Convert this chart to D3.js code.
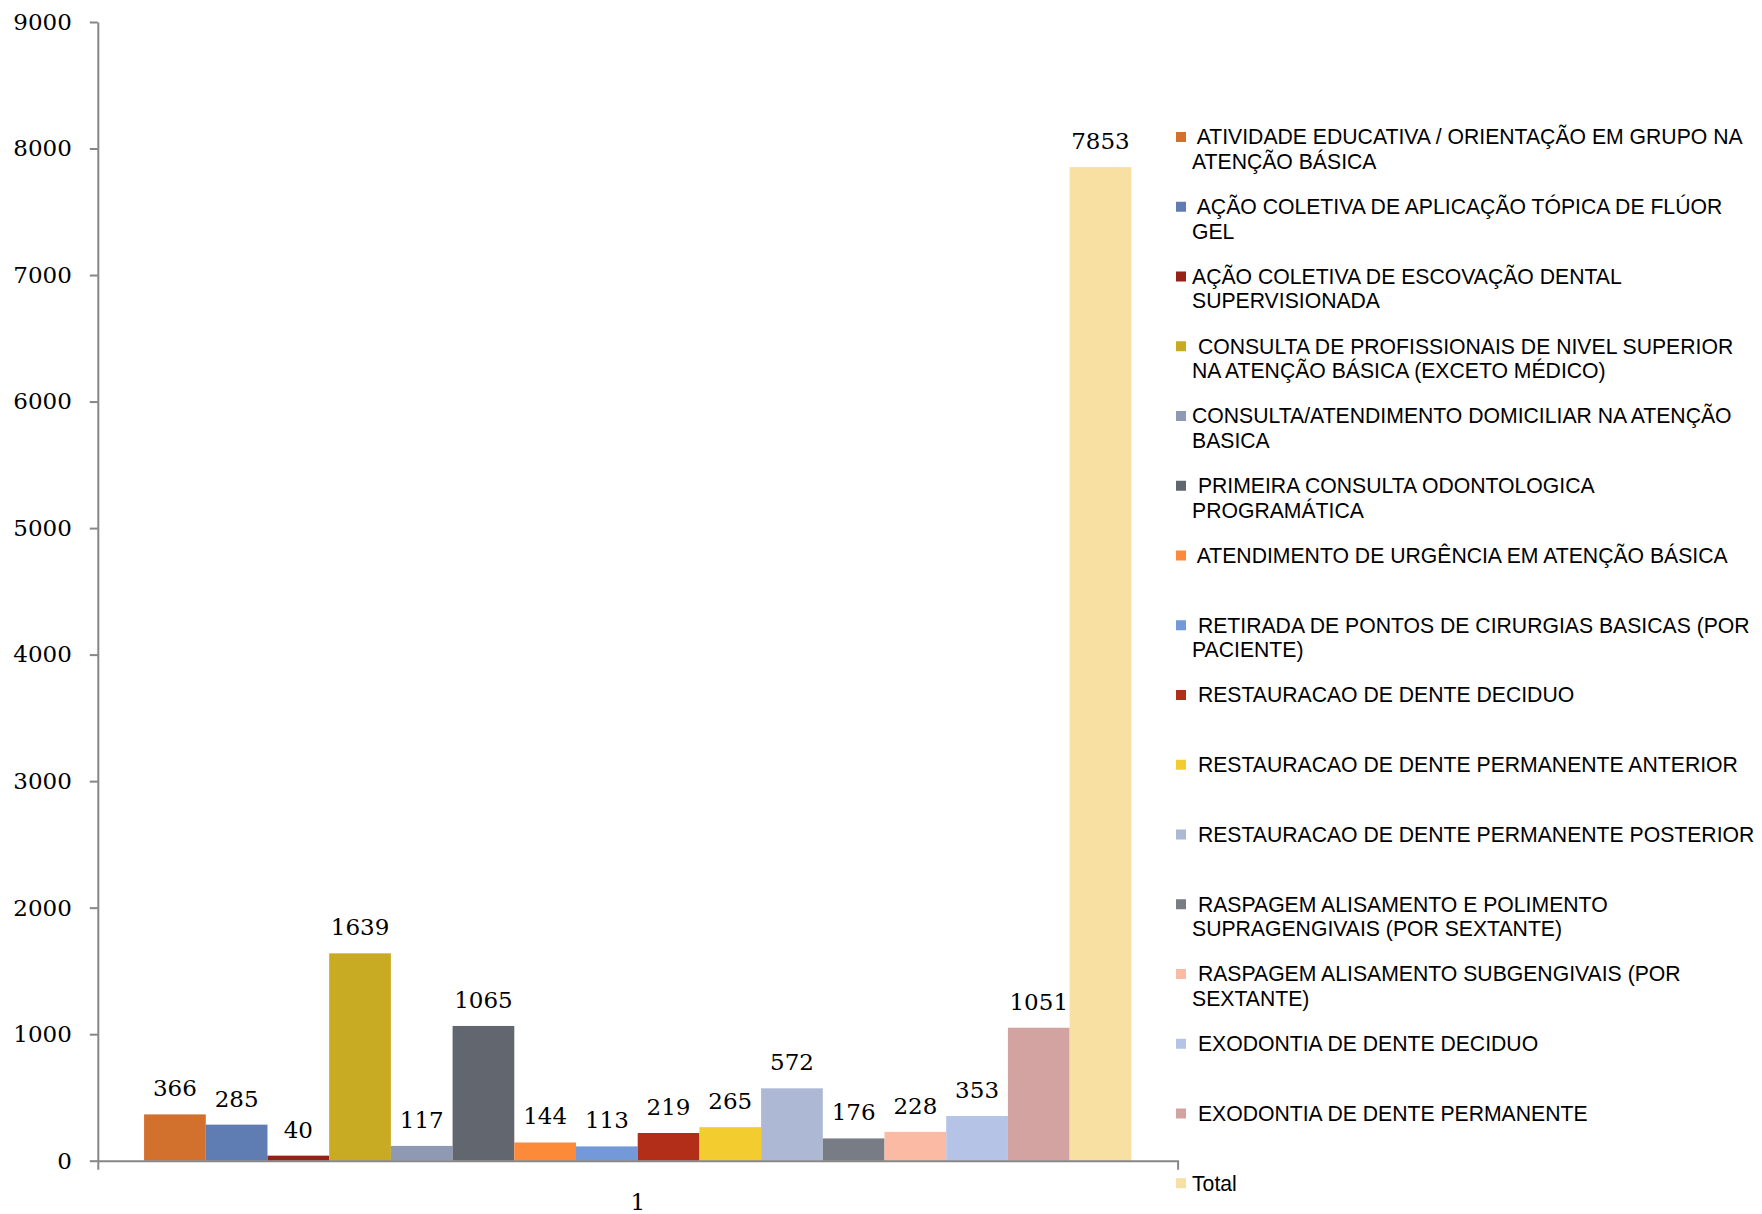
<!DOCTYPE html>
<html lang="pt">
<head>
<meta charset="UTF-8">
<title>Procedimentos odontológicos</title>
<style>
  body { margin: 0; background: #fff; }
  svg { display: block; }
  .legend text { white-space: pre; }
</style>
</head>
<body>
<svg id="chart" width="1762" height="1214"></svg>
<script src="https://cdn.jsdelivr.net/npm/d3@7"></script>
<script>
  // data
  const categories = ["1"];

  const seriesNames = [
    " ATIVIDADE EDUCATIVA / ORIENTAÇÃO EM GRUPO NA\nATENÇÃO BÁSICA",
    " AÇÃO COLETIVA DE APLICAÇÃO TÓPICA DE FLÚOR\nGEL",
    "AÇÃO COLETIVA DE ESCOVAÇÃO DENTAL\nSUPERVISIONADA",
    " CONSULTA DE PROFISSIONAIS DE NIVEL SUPERIOR\nNA ATENÇÃO BÁSICA (EXCETO MÉDICO)",
    "CONSULTA/ATENDIMENTO DOMICILIAR NA ATENÇÃO\nBASICA",
    " PRIMEIRA CONSULTA ODONTOLOGICA\nPROGRAMÁTICA",
    " ATENDIMENTO DE URGÊNCIA EM ATENÇÃO BÁSICA",
    " RETIRADA DE PONTOS DE CIRURGIAS BASICAS (POR\nPACIENTE)",
    " RESTAURACAO DE DENTE DECIDUO",
    " RESTAURACAO DE DENTE PERMANENTE ANTERIOR",
    " RESTAURACAO DE DENTE PERMANENTE POSTERIOR",
    " RASPAGEM ALISAMENTO E POLIMENTO\nSUPRAGENGIVAIS (POR SEXTANTE)",
    " RASPAGEM ALISAMENTO SUBGENGIVAIS (POR\nSEXTANTE)",
    " EXODONTIA DE DENTE DECIDUO",
    " EXODONTIA DE DENTE PERMANENTE",
    "Total"
  ];

  const seriesValues = [366, 285, 40, 1639, 117, 1065, 144, 113, 219, 265, 572, 176, 228, 353, 1051, 7853];

  const seriesColors = [
    "#d2702d", "#5f7db3", "#962117", "#c9aa23", "#8e9ab3", "#62666e",
    "#fd8a38", "#7499d8", "#b22e19", "#f3cc30", "#adb8d5", "#787c84",
    "#fbbaa4", "#b4c3e6", "#d3a3a1", "#f7e0a2"
  ];

  const yTicks = [0, 1000, 2000, 3000, 4000, 5000, 6000, 7000, 8000, 9000];

  const svg = d3.select("#chart");
  const serif = "'DejaVu Serif', serif";
  const axisColor = "#868686";

  const plot = { left: 97.8, right: 1177.6, top: 22, bottom: 1160.7 };

  const y = d3.scaleLinear()
    .domain([0, 9000])
    .range([plot.bottom, plot.top]);

  // excel-style gap width of 150% of one bar on a 16-bar group
  const x = d3.scaleBand()
    .domain(categories)
    .range([plot.left, plot.right])
    .paddingInner(0)
    .paddingOuter(1.5 / seriesNames.length / 2);

  const xs = d3.scaleBand()
    .domain(d3.range(seriesNames.length))
    .range([0, x.bandwidth()])
    .padding(0);

  const rows = seriesNames.map((name, i) => ({
    i, name, value: seriesValues[i], color: seriesColors[i]
  }));

  // y axis
  const yAxis = svg.append("g")
    .attr("transform", `translate(${plot.left},0)`)
    .call(d3.axisLeft(y).tickValues(yTicks).tickSize(8).tickSizeOuter(0).tickPadding(18).tickFormat(d3.format("d")));
  yAxis.selectAll("path, line").attr("stroke", axisColor).attr("stroke-width", 2);
  yAxis.selectAll("text")
    .attr("font-family", serif)
    .attr("font-size", 23)
    .attr("fill", "#000");

  // bars
  const group = svg.append("g")
    .attr("transform", `translate(${x("1")},0)`);

  group.selectAll("rect")
    .data(rows)
    .join("rect")
    .attr("x", d => xs(d.i))
    .attr("y", d => y(d.value))
    .attr("width", xs.bandwidth())
    .attr("height", d => y(0) - y(d.value))
    .attr("fill", d => d.color);

  group.selectAll("text.value")
    .data(rows)
    .join("text")
    .attr("class", "value")
    .attr("x", d => xs(d.i) + xs.bandwidth() / 2)
    .attr("y", d => y(d.value) - 18)
    .attr("text-anchor", "middle")
    .attr("font-family", serif)
    .attr("font-size", 23)
    .attr("fill", "#000")
    .text(d => d.value);

  // x axis
  const xAxis = svg.append("g")
    .attr("transform", `translate(0,${plot.bottom})`)
    .call(d3.axisBottom(x).tickSizeInner(0).tickSizeOuter(9).tickPadding(33));
  xAxis.selectAll("path").attr("stroke", axisColor).attr("stroke-width", 2);
  xAxis.selectAll("text")
    .attr("font-family", serif)
    .attr("font-size", 23)
    .attr("fill", "#000");

  // legend
  const legend = svg.append("g")
    .attr("class", "legend")
    .attr("transform", "translate(1176,137)");

  const item = legend.selectAll("g")
    .data(rows)
    .join("g")
    .attr("transform", d => `translate(0,${d.i * 69.75})`);

  item.append("rect")
    .attr("x", 0)
    .attr("y", -5)
    .attr("width", 10)
    .attr("height", 10)
    .attr("fill", d => d.color);

  item.append("text")
    .attr("font-family", "'Liberation Sans', Arial, sans-serif")
    .attr("font-size", 21.2)
    .attr("fill", "#000")
    .selectAll("tspan")
    .data(d => d.name.split("\n"))
    .join("tspan")
    .attr("x", 16)
    .attr("y", (d, j) => j * 24.5)
    .attr("dy", "0.35em")
    .text(d => d);
</script>
</body>
</html>
